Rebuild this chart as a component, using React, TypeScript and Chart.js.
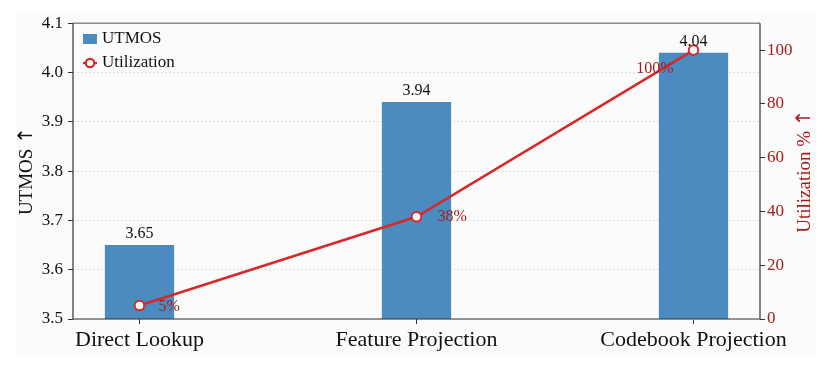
import React, { useEffect, useRef } from "react";
import { Chart, registerables } from "chart.js";
Chart.register(...registerables);

const categories = ["Direct Lookup", "Feature Projection", "Codebook Projection"];
const utmos = [3.65, 3.94, 4.04];
const utilization = [5, 38, 100];
const utmosTicks = [3.5, 3.6, 3.7, 3.8, 3.9, 4.0, 4.1];
const utilTicks = [0, 20, 40, 60, 80, 100];

const SERIF = "'Liberation Serif', 'Times New Roman', serif";
const ARROWFONT = "'DejaVu Sans', sans-serif";
const BAR = "#4c8bc0";
const LINE = "#d62a2a";
const DARKRED = "#a51c1c";

function drawTitle(ctx: CanvasRenderingContext2D, text: string, cx: number, cy: number, color: string) {
  ctx.save();
  ctx.translate(cx, cy);
  ctx.rotate(-Math.PI / 2);
  ctx.fillStyle = color;
  ctx.textBaseline = "middle";
  ctx.textAlign = "left";
  ctx.font = "19px " + SERIF;
  const w1 = ctx.measureText(text + " ").width;
  ctx.font = "20px " + ARROWFONT;
  const w2 = ctx.measureText("↑").width;
  const start = -(w1 + w2) / 2;
  ctx.font = "19px " + SERIF;
  ctx.fillText(text + " ", start, 0);
  ctx.font = "20px " + ARROWFONT;
  ctx.fillText("↑", start + w1, 0);
  ctx.restore();
}

const decor = {
  id: "decor",
  beforeDraw(chart: any) {
    const ctx = chart.ctx;
    ctx.save();
    ctx.fillStyle = "#ffffff";
    ctx.fillRect(0, 0, chart.width, chart.height);
    ctx.fillStyle = "#fbfbfb";
    ctx.fillRect(9, 6, 800, 342);
    ctx.restore();
  },
  afterDatasetsDraw(chart: any) {
    const ctx = chart.ctx;
    const xs = chart.scales.x;
    const yl = chart.scales.y;
    const yr = chart.scales.y2;
    ctx.save();
    ctx.font = "16px " + SERIF;
    ctx.fillStyle = "#111";
    ctx.textAlign = "center";
    ctx.textBaseline = "bottom";
    utmos.forEach((v, i) => {
      ctx.fillText(v.toFixed(2), xs.getPixelForValue(i), yl.getPixelForValue(v) - 3);
    });
    const offs: [number, number, CanvasTextAlign][] = [
      [19, 1, "left"],
      [21, 0, "left"],
      [-20, 19, "right"],
    ];
    ctx.fillStyle = DARKRED;
    ctx.textBaseline = "middle";
    utilization.forEach((v, i) => {
      const o = offs[i];
      ctx.textAlign = o[2];
      ctx.fillText(v + "%", xs.getPixelForValue(i) + o[0], yr.getPixelForValue(v) + o[1]);
    });
    ctx.restore();
  },
  afterDraw(chart: any) {
    const ctx = chart.ctx;
    const { left, right, top, bottom } = chart.chartArea;
    ctx.save();
    ctx.lineWidth = 1.5;
    ctx.strokeStyle = "#8a8a8a";
    ctx.beginPath();
    ctx.moveTo(left, top);
    ctx.lineTo(right, top);
    ctx.stroke();
    ctx.strokeStyle = "#333";
    ctx.lineWidth = 1.2;
    ctx.beginPath();
    ctx.moveTo(left, top);
    ctx.lineTo(left, bottom);
    ctx.lineTo(right, bottom);
    ctx.lineTo(right, top);
    ctx.stroke();

    ctx.font = "17px " + SERIF;
    ctx.textAlign = "left";
    ctx.textBaseline = "middle";
    ctx.fillStyle = BAR;
    ctx.fillRect(75, 26, 14, 10);
    ctx.fillStyle = "#111";
    ctx.fillText("UTMOS", 94, 31);
    ctx.strokeStyle = LINE;
    ctx.lineWidth = 2.2;
    ctx.beginPath();
    ctx.moveTo(75, 55);
    ctx.lineTo(89, 55);
    ctx.stroke();
    ctx.beginPath();
    ctx.arc(82, 55, 4.2, 0, Math.PI * 2);
    ctx.fillStyle = "#fff";
    ctx.fill();
    ctx.stroke();
    ctx.fillStyle = "#111";
    ctx.fillText("Utilization", 94, 55);

    const cy = (top + bottom) / 2;
    drawTitle(ctx, "UTMOS", 19, cy, "#111");
    drawTitle(ctx, "Utilization %", 797, cy, DARKRED);
    ctx.restore();
  },
};

export default function App() {
  const ref = useRef<HTMLCanvasElement>(null);
  useEffect(() => {
    if (!ref.current) return;
    const chart = new Chart(ref.current, {
      type: "bar",
      data: {
        datasets: [
          {
            type: "line",
            label: "Utilization",
            data: utilization.map((v, i) => ({ x: i, y: v })),
            xAxisID: "x",
            yAxisID: "y2",
            borderColor: LINE,
            borderWidth: 2.5,
            pointRadius: 4.8,
            pointBackgroundColor: "#ffffff",
            pointBorderColor: LINE,
            pointBorderWidth: 2,
            tension: 0,
            order: 1,
          } as any,
          {
            type: "bar",
            label: "UTMOS",
            data: utmos.map((v, i) => ({ x: i, y: v })),
            xAxisID: "x",
            yAxisID: "y",
            backgroundColor: BAR,
            barPercentage: 0.25,
            categoryPercentage: 1,
            order: 2,
          } as any,
        ],
      },
      options: {
        responsive: false,
        animation: false,
        layout: { padding: { top: 15, left: 0, right: 0, bottom: 0 } },
        plugins: { legend: { display: false }, tooltip: { enabled: false } },
        scales: {
          x: {
            type: "linear",
            min: -0.24,
            max: 2.24,
            offset: false,
            afterBuildTicks: (s: any) => {
              s.ticks = categories.map((_, i) => ({ value: i }));
            },
            afterFit: (s: any) => {
              s.height = 53;
            },
            ticks: {
              callback: (v: any) => categories[Math.round(Number(v))] ?? "",
              font: { family: SERIF, size: 22 },
              color: "#111",
              padding: 3,
              maxRotation: 0,
              autoSkip: false,
            },
            grid: { offset: false, drawOnChartArea: false, drawTicks: true, tickLength: 5, tickColor: "#333" },
            border: { display: false },
          },
          y: {
            type: "linear",
            position: "left",
            min: 3.5,
            max: 4.1,
            afterBuildTicks: (s: any) => {
              s.ticks = utmosTicks.map((v) => ({ value: v }));
            },
            afterFit: (s: any) => {
              s.width = 65;
            },
            ticks: {
              callback: (v: any) => Number(v).toFixed(1),
              font: { family: SERIF, size: 17 },
              color: "#111",
              padding: 5,
            },
            grid: {
              color: "#dedede",
              lineWidth: 1,
              tickColor: "#333",
              tickLength: 5,
              tickBorderDash: [],
            },
            border: { display: false, dash: [2, 2] },
          },
          y2: {
            type: "linear",
            position: "right",
            min: 0,
            max: 110,
            afterBuildTicks: (s: any) => {
              s.ticks = utilTicks.map((v) => ({ value: v }));
            },
            afterFit: (s: any) => {
              s.width = 64;
            },
            ticks: {
              font: { family: SERIF, size: 17 },
              color: DARKRED,
              padding: 2,
            },
            grid: { drawOnChartArea: false, tickColor: "#333", tickLength: 5 },
            border: { display: false },
          },
        },
      },
      plugins: [decor],
    } as any);
    return () => chart.destroy();
  }, []);
  return (
    <div style={{ width: 816, height: 364, background: "#fff" }}>
      <canvas ref={ref} width={816} height={364} style={{ display: "block" }} />
    </div>
  );
}
